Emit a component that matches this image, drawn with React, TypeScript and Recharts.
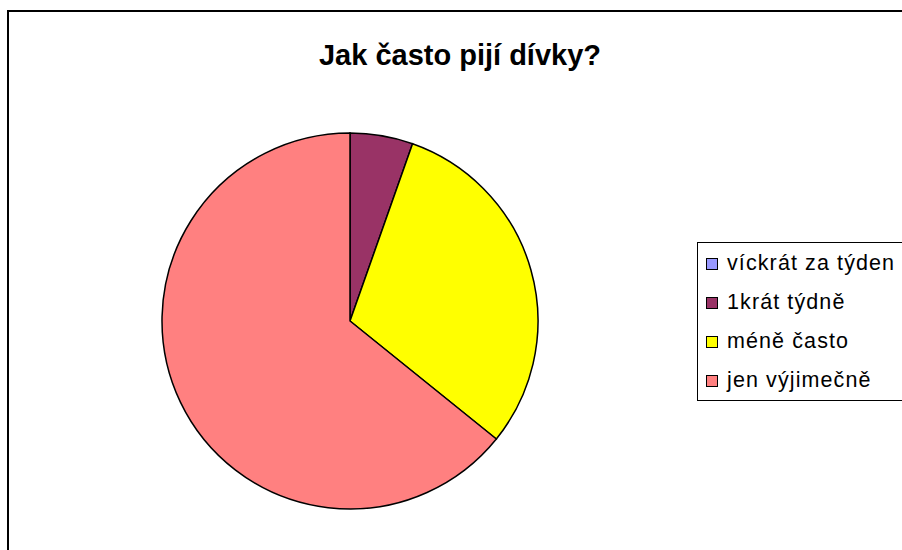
import { PieChart, Pie, Cell, Legend } from "recharts";

const categories = ["víckrát za týden", "1krát týdně", "méně často", "jen výjimečně"];
const shares = [0, 5.4, 30.4, 64.2];
const colors = ["#9999FF", "#993366", "#FFFF00", "#FF8080"];

const data = categories.map((name, i) => ({ name, value: shares[i] }));

const font = "'Liberation Sans', Arial, sans-serif";

function LegendBox() {
  return (
    <div
      style={{
        border: "1px solid #000",
        borderRight: "none",
        background: "#fff",
        padding: "1px 0 0 8px",
        width: 220,
        fontFamily: font,
        fontSize: 21.5,
        letterSpacing: 1.1,
        color: "#000",
      }}
    >
      {categories.map((c, i) => (
        <div key={c} style={{ display: "flex", alignItems: "center", height: 39, whiteSpace: "nowrap" }}>
          <span
            style={{
              display: "inline-block",
              width: 10,
              height: 10,
              background: colors[i],
              border: "1.5px solid #000",
              marginRight: 9,
              flexShrink: 0,
            }}
          />
          {c}
        </div>
      ))}
    </div>
  );
}

export default function App() {
  return (
    <div style={{ position: "absolute", left: 0, top: 0, width: 902, height: 550, background: "#fff", overflow: "hidden" }}>
      <div
        style={{
          position: "absolute",
          left: 7,
          top: 10,
          width: 1000,
          height: 700,
          border: "2px solid #000",
        }}
      />
      <div
        style={{
          position: "absolute",
          left: 0,
          width: 920,
          top: 38,
          textAlign: "center",
          fontFamily: font,
          fontWeight: "bold",
          fontSize: 29,
          lineHeight: "34px",
        }}
      >
        Jak často pijí dívky?
      </div>
      <div style={{ position: "absolute", left: 0, top: 0 }}>
        <PieChart width={902} height={550} margin={{ top: 0, right: 0, bottom: 0, left: 0 }}>
          <Pie
            data={data}
            dataKey="value"
            nameKey="name"
            cx={350}
            cy={321}
            outerRadius={188}
            startAngle={90}
            endAngle={-270}
            stroke="#000"
            strokeWidth={1.5}
            isAnimationActive={false}
          >
            {data.map((d, i) => (
              <Cell key={d.name} fill={colors[i]} />
            ))}
          </Pie>
          <Legend
            layout="vertical"
            content={() => <LegendBox />}
            wrapperStyle={{ position: "absolute", left: 697, top: 242, width: 230 }}
          />
        </PieChart>
      </div>
    </div>
  );
}
